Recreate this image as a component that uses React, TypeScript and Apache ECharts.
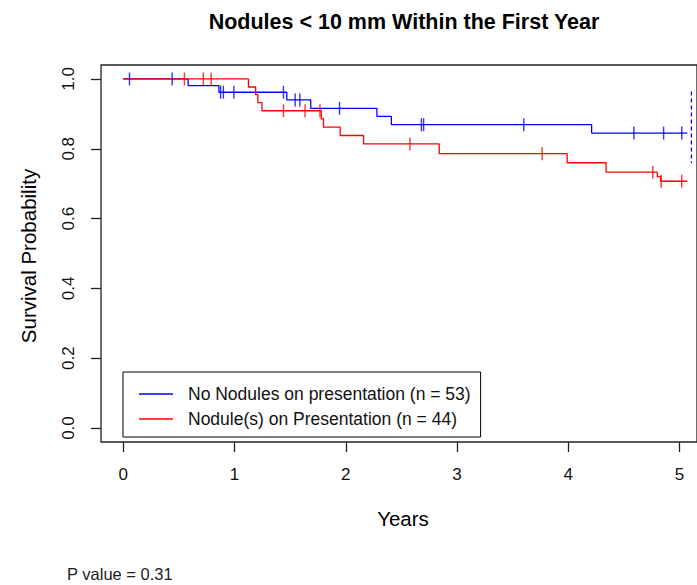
import React, { useEffect, useRef } from "react";
import * as echarts from "echarts";

const title = "Nodules < 10 mm Within the First Year";
const xTitle = "Years";
const yTitle = "Survival Probability";
const pValueText = "P value = 0.31";

const blueName = "No Nodules on presentation (n = 53)";
const redName = "Nodule(s) on Presentation (n = 44)";

const xTicks = [0, 1, 2, 3, 4, 5];
const yTicks = [0, 0.2, 0.4, 0.6, 0.8, 1.0];

// Kaplan-Meier step curves (time in years, survival probability)
const blueTimes = [0, 0.583, 0.86, 1.47, 1.685, 2.28, 2.41, 4.21, 5.07];
const blueSurv = [1.0, 0.981, 0.962, 0.94, 0.916, 0.893, 0.869, 0.845, 0.845];
const blueCensor = [0.056, 0.44, 0.875, 0.9, 0.994, 1.44, 1.545, 1.587, 1.944, 2.68, 2.70, 3.6, 4.59, 4.857, 5.02];

const redTimes = [0, 1.125, 1.19, 1.21, 1.247, 1.78, 1.8, 1.95, 2.16, 2.84, 3.99, 4.34, 4.8, 4.83, 5.07];
const redSurv = [1.0, 0.977, 0.955, 0.932, 0.909, 0.886, 0.862, 0.838, 0.814, 0.786, 0.76, 0.733, 0.72, 0.707, 0.707];
const redCensor = [0.55, 0.72, 0.79, 1.44, 1.634, 1.768, 2.577, 3.765, 4.76, 4.835, 5.02];

// dashed vertical segment at right edge
const dashX = 5.107;
const dashY = [0.964, 0.759];

const BLUE = "#0000ff";
const RED = "#ff0000";
const FONT = "'Liberation Sans', Arial, sans-serif";

function survAt(times: number[], surv: number[], t: number) {
  let s = surv[0];
  for (let i = 0; i < times.length; i++) if (times[i] <= t) s = surv[i];
  return s;
}

export default function App() {
  const ref = useRef<HTMLDivElement>(null);
  useEffect(() => {
    if (!ref.current) return;
    const chart = echarts.init(ref.current, null, { renderer: "svg" });
    const gridLeft = 101;
    const gridTop = 65;
    const gridW = 600;
    const gridH = 377;
    const xMin = -0.2;
    const xMax = xMin + gridW / 112;
    chart.setOption({
      animation: false,
      backgroundColor: "#ffffff",
      grid: {
        left: gridLeft,
        top: gridTop,
        width: gridW,
        height: gridH,
        show: true,
        borderColor: "#222",
        borderWidth: 1.3,
        containLabel: false,
      },
      xAxis: {
        type: "value",
        min: xMin,
        max: xMax,
        axisLine: { show: false, onZero: false },
        splitLine: { show: false },
        axisTick: {
          show: true,
          inside: false,
          length: 10,
          customValues: xTicks,
          lineStyle: { color: "#222", width: 1.3 },
        },
        axisLabel: {
          customValues: xTicks,
          margin: 24,
          fontSize: 17,
          color: "#111",
          fontFamily: FONT,
          formatter: (v: number) => String(v),
        },
      },
      yAxis: {
        type: "value",
        min: -0.04,
        max: 1.04,
        axisLine: { show: false, onZero: false },
        splitLine: { show: false },
        axisTick: {
          show: true,
          inside: false,
          length: 10,
          customValues: yTicks,
          lineStyle: { color: "#222", width: 1.3 },
        },
        axisLabel: {
          customValues: yTicks,
          rotate: 90,
          margin: 24,
          fontSize: 17,
          color: "#111",
          fontFamily: FONT,
          formatter: (v: number) => v.toFixed(1),
        },
      },
      legend: {
        data: [blueName, redName],
        orient: "vertical",
        left: 123,
        top: 372,
        borderColor: "#000",
        borderWidth: 1,
        backgroundColor: "#fff",
        padding: [12, 10, 8, 16],
        itemWidth: 34,
        itemHeight: 1.5,
        itemGap: 5,
        icon: "rect",
        selectedMode: false,
        textStyle: {
          fontSize: 17.5,
          fontFamily: FONT,
          color: "#111",
          lineHeight: 20,
          padding: [0, 0, 0, 10],
        },
      },
      graphic: [
        {
          type: "text",
          x: 404,
          y: 22,
          style: {
            text: title,
            font: `bold 21.5px ${FONT}`,
            fill: "#000",
            textAlign: "center",
            textVerticalAlign: "middle",
          },
        },
        {
          type: "text",
          x: 403,
          y: 518,
          style: {
            text: xTitle,
            font: `20.5px ${FONT}`,
            fill: "#000",
            textAlign: "center",
            textVerticalAlign: "middle",
          },
        },
        {
          type: "text",
          x: 28,
          y: 256,
          rotation: Math.PI / 2,
          style: {
            text: yTitle,
            font: `20.5px ${FONT}`,
            fill: "#000",
            textAlign: "center",
            textVerticalAlign: "middle",
          },
        },
        {
          type: "text",
          x: 67,
          y: 574,
          style: {
            text: pValueText,
            font: `16.5px ${FONT}`,
            fill: "#222",
            textAlign: "left",
            textVerticalAlign: "middle",
          },
        },
      ],
      series: [
        {
          name: blueName,
          type: "line",
          step: "end",
          showSymbol: false,
          color: BLUE,
          lineStyle: { color: BLUE, width: 1.3 },
          data: blueTimes.map((t, i) => [t, blueSurv[i]]),
          z: 3,
        },
        {
          name: redName,
          type: "line",
          step: "end",
          showSymbol: false,
          color: RED,
          lineStyle: { color: RED, width: 1.3 },
          data: redTimes.map((t, i) => [t, redSurv[i]]),
          z: 4,
        },
        {
          name: "blue-censor",
          type: "scatter",
          symbol: "rect",
          symbolSize: [1.4, 13],
          itemStyle: { color: BLUE },
          data: blueCensor.map((t) => [t, survAt(blueTimes, blueSurv, t)]),
          z: 5,
        },
        {
          name: "red-censor",
          type: "scatter",
          symbol: "rect",
          symbolSize: [1.4, 13],
          itemStyle: { color: RED },
          data: redCensor.map((t) => [t, survAt(redTimes, redSurv, t)]),
          z: 6,
        },
        {
          name: "blue-dash",
          type: "line",
          showSymbol: false,
          color: BLUE,
          lineStyle: { color: BLUE, width: 1.3, type: [4, 3] },
          data: dashY.map((y) => [dashX, y]),
          z: 3,
        },
      ],
    });
    return () => chart.dispose();
  }, []);
  return (
    <div
      ref={ref}
      style={{ position: "fixed", left: 0, top: 0, width: 697, height: 585, background: "#fff" }}
    />
  );
}
